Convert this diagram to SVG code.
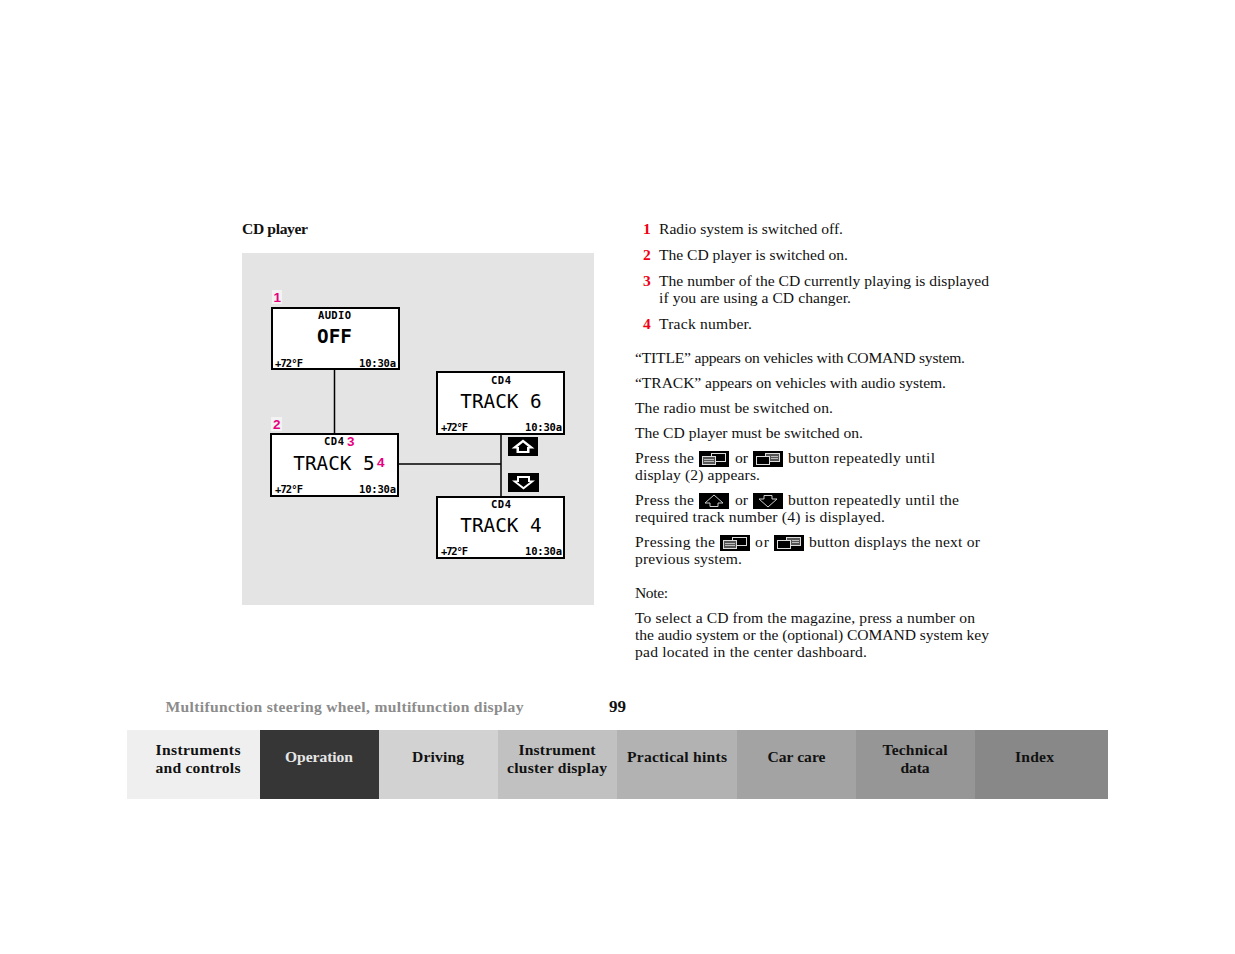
<svg xmlns="http://www.w3.org/2000/svg" width="1235" height="954" viewBox="0 0 1235 954">
<style>
text{font-family:"Liberation Serif","Times New Roman",serif}
.b{font-size:15.6px;fill:#111}
.n{font-size:15.5px;font-weight:bold;fill:#f00010}
.t{font-size:15.6px;font-weight:bold;fill:#111;text-anchor:middle}
.h{font-size:15.6px;font-weight:bold;fill:#111}
.s{fill:#fff;stroke:#000;stroke-width:2}
.l{stroke:#000;stroke-width:1.5;fill:none}
.sm{font-size:10.5px;font-weight:bold;font-family:"DejaVu Sans Mono","Liberation Mono",monospace;fill:#000}
.big{font-size:19.3px;font-family:"DejaVu Sans Mono","Liberation Mono",monospace;fill:#000;text-anchor:middle}
.p{font-family:"Liberation Sans",Arial,sans-serif;font-weight:bold;font-size:13.5px;fill:#e6007e}
.ic{fill:none;stroke:#ddd;stroke-width:1}
</style>
<defs>
<g id="ic-a"><rect width="30" height="16" fill="#000"/><rect class="ic" x="12.500" y="2.500" width="14" height="8"/><rect x="3" y="5" width="14" height="9" fill="#000"/><rect x="3.500" y="5.500" width="13" height="8" fill="#555" stroke="#ddd"/><path d="M5 8.500h10M5 10.500h10" stroke="#bbb" fill="none"/></g>
<g id="ic-b"><rect width="30" height="16" fill="#000"/><rect x="12.500" y="2.500" width="14" height="8" fill="#555" stroke="#ddd"/><path d="M18 5.500h7M18 7.500h7" stroke="#bbb" fill="none"/><rect x="3" y="5" width="14" height="9" fill="#000"/><rect class="ic" x="3.500" y="5.500" width="13" height="8"/></g>
</defs>

<rect id="panel" x="242" y="253" width="352" height="352" fill="#e4e4e4"/>
<text class="h" x="242" y="234" textLength="66" lengthAdjust="spacing">CD player</text>

<g id="connectors">
<path class="l" d="M334.500 369V433"/>
<path class="l" d="M398 464H501"/>
<path class="l" d="M501 434V497"/>
</g>

<g id="node-audio-off">
<rect x="272" y="290" width="10" height="14" fill="#f3f3f3"/>
<text class="p" x="273.500" y="302">1</text>
<rect class="s" x="272" y="308" width="127" height="61"/>
<text class="sm" x="318" y="319" textLength="33" lengthAdjust="spacing">AUDIO</text>
<text class="big" x="334.500" y="343" font-weight="bold">OFF</text>
<text class="sm" x="275" y="367" textLength="28" lengthAdjust="spacing">+72°F</text>
<text class="sm" x="359" y="367" textLength="37" lengthAdjust="spacing">10:30a</text>
</g>

<g id="node-track-5">
<rect x="271" y="417" width="11" height="14" fill="#f3f3f3"/>
<text class="p" x="273" y="428.500">2</text>
<rect class="s" x="271" y="434" width="127" height="62"/>
<text class="sm" x="324" y="445" textLength="20" lengthAdjust="spacing">CD4</text>
<text class="p" x="347" y="445.500">3</text>
<text class="big" x="334" y="470">TRACK 5</text>
<text class="p" x="377" y="467">4</text>
<text class="sm" x="275" y="493" textLength="28" lengthAdjust="spacing">+72°F</text>
<text class="sm" x="359" y="493" textLength="37" lengthAdjust="spacing">10:30a</text>
</g>

<g id="node-track-6">
<rect class="s" x="437" y="372" width="127" height="62"/>
<text class="sm" x="491" y="383.500" textLength="20" lengthAdjust="spacing">CD4</text>
<text class="big" x="501" y="408">TRACK 6</text>
<text class="sm" x="441" y="431" textLength="27" lengthAdjust="spacing">+72°F</text>
<text class="sm" x="525" y="431" textLength="37" lengthAdjust="spacing">10:30a</text>
</g>

<g id="node-track-4">
<rect class="s" x="437" y="497" width="127" height="61"/>
<text class="sm" x="491" y="508" textLength="20" lengthAdjust="spacing">CD4</text>
<text class="big" x="501" y="532">TRACK 4</text>
<text class="sm" x="441" y="555" textLength="27" lengthAdjust="spacing">+72°F</text>
<text class="sm" x="525" y="555" textLength="37" lengthAdjust="spacing">10:30a</text>
</g>

<g id="button-up">
<rect x="508" y="437" width="30" height="19" fill="#000"/>
<path d="M523 439.500L511.500 448.500H516.500V453H529.500V448.500H534.500Z" fill="#fff"/>
<path d="M523 442.500L517.500 447H519V451H527V447H528.500Z" fill="#000"/>
</g>
<g id="button-down">
<rect x="508" y="473" width="31" height="19" fill="#000"/>
<path d="M517 476H530V480.500H535L523.500 489.500L512 480.500H517Z" fill="#fff"/>
<path d="M519 478H528V482H530L523.500 487L517 482H519Z" fill="#000"/>
</g>

<g id="list">
<text class="n" x="643" y="234">1</text><text class="b" x="659" y="234" textLength="184" lengthAdjust="spacing">Radio system is switched off.</text>
<text class="n" x="643" y="260">2</text><text class="b" x="659" y="260" textLength="189" lengthAdjust="spacing">The CD player is switched on.</text>
<text class="n" x="643" y="286">3</text><text class="b" x="659" y="286" textLength="330" lengthAdjust="spacing">The number of the CD currently playing is displayed</text>
<text class="b" x="659" y="303" textLength="192" lengthAdjust="spacing">if you are using a CD changer.</text>
<text class="n" x="643" y="329">4</text><text class="b" x="659" y="329" textLength="93" lengthAdjust="spacing">Track number.</text>
</g>

<g id="body">
<text class="b" x="635" y="363" textLength="330" lengthAdjust="spacing">“TITLE” appears on vehicles with COMAND system.</text>
<text class="b" x="635" y="388" textLength="311" lengthAdjust="spacing">“TRACK” appears on vehicles with audio system.</text>
<text class="b" x="635" y="413" textLength="198" lengthAdjust="spacing">The radio must be switched on.</text>
<text class="b" x="635" y="438" textLength="228" lengthAdjust="spacing">The CD player must be switched on.</text>
<text class="b" x="635" y="463" textLength="59" lengthAdjust="spacing">Press the</text>
<use href="#ic-a" x="699" y="451"/>
<text class="b" x="735" y="463" textLength="13" lengthAdjust="spacing">or</text>
<use href="#ic-b" x="753" y="451"/>
<text class="b" x="788" y="463" textLength="147" lengthAdjust="spacing">button repeatedly until</text>
<text class="b" x="635" y="480" textLength="125" lengthAdjust="spacing">display (2) appears.</text>
<text class="b" x="635" y="505" textLength="59" lengthAdjust="spacing">Press the</text>
<rect x="699" y="493" width="30" height="16" fill="#000"/>
<path d="M714 495L705 503H710V506.500H718V503H723Z" fill="none" stroke="#ccc"/>
<text class="b" x="735" y="505" textLength="13" lengthAdjust="spacing">or</text>
<rect x="753" y="493" width="30" height="16" fill="#000"/>
<path d="M764 495.500H772V499H777L768 507L759 499H764Z" fill="none" stroke="#ccc"/>
<text class="b" x="788" y="505" textLength="171" lengthAdjust="spacing">button repeatedly until the</text>
<text class="b" x="635" y="522" textLength="250" lengthAdjust="spacing">required track number (4) is displayed.</text>
<text class="b" x="635" y="547" textLength="80" lengthAdjust="spacing">Pressing the</text>
<use href="#ic-a" x="720" y="535"/>
<text class="b" x="755" y="547" textLength="14" lengthAdjust="spacing">or</text>
<use href="#ic-b" x="774" y="535"/>
<text class="b" x="809" y="547" textLength="171" lengthAdjust="spacing">button displays the next or</text>
<text class="b" x="635" y="564" textLength="107" lengthAdjust="spacing">previous system.</text>
<text class="b" x="635" y="598" textLength="33" lengthAdjust="spacing">Note:</text>
<text class="b" x="635" y="623" textLength="340" lengthAdjust="spacing">To select a CD from the magazine, press a number on</text>
<text class="b" x="635" y="640" textLength="354" lengthAdjust="spacing">the audio system or the (optional) COMAND system key</text>
<text class="b" x="635" y="657" textLength="232" lengthAdjust="spacing">pad located in the center dashboard.</text>
</g>

<text class="h" x="165.500" y="712" textLength="358" lengthAdjust="spacing" style="fill:#8c8c8c">Multifunction steering wheel, multifunction display</text>
<text class="h" x="609" y="712" style="font-size:17px">99</text>

<g id="tab-instruments"><rect x="127" y="730" width="133" height="69" fill="#efefef"/><text class="t" x="198" y="755" textLength="85" lengthAdjust="spacing">Instruments</text><text class="t" x="198" y="773" textLength="85" lengthAdjust="spacing">and controls</text></g>
<g id="tab-operation"><rect x="260" y="730" width="119" height="69" fill="#363636"/><text class="t" x="319" y="762" style="fill:#e6e6e6" textLength="68" lengthAdjust="spacing">Operation</text></g>
<g id="tab-driving"><rect x="379" y="730" width="119" height="69" fill="#d2d2d2"/><text class="t" x="438" y="762" textLength="52" lengthAdjust="spacing">Driving</text></g>
<g id="tab-cluster"><rect x="498" y="730" width="119" height="69" fill="#c1c1c1"/><text class="t" x="557" y="755" textLength="77" lengthAdjust="spacing">Instrument</text><text class="t" x="557" y="773" textLength="100" lengthAdjust="spacing">cluster display</text></g>
<g id="tab-hints"><rect x="617" y="730" width="120" height="69" fill="#b2b2b2"/><text class="t" x="677" y="762" textLength="100" lengthAdjust="spacing">Practical hints</text></g>
<g id="tab-care"><rect x="737" y="730" width="119" height="69" fill="#a3a3a3"/><text class="t" x="796.500" y="762" textLength="58" lengthAdjust="spacing">Car care</text></g>
<g id="tab-technical"><rect x="856" y="730" width="119" height="69" fill="#969696"/><text class="t" x="915" y="755" textLength="65" lengthAdjust="spacing">Technical</text><text class="t" x="915" y="773" textLength="29" lengthAdjust="spacing">data</text></g>
<g id="tab-index"><rect x="975" y="730" width="133" height="69" fill="#888888"/><text class="t" x="1034.500" y="762" textLength="39" lengthAdjust="spacing">Index</text></g>
</svg>
